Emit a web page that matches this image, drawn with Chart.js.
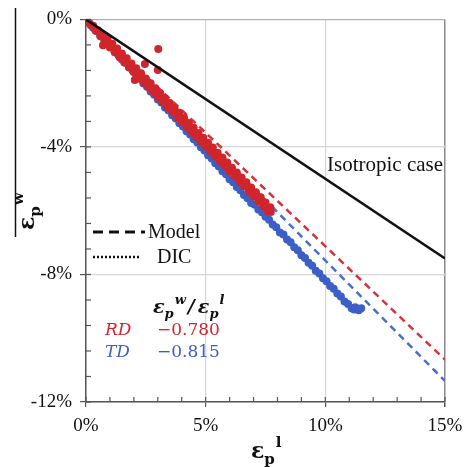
<!DOCTYPE html>
<html lang="en">
<head>
    <meta charset="UTF-8">
    <title>Plastic strain ratio</title>
    <script src="https://cdn.jsdelivr.net/npm/chart.js"></script>
    <style>
        body { margin: 0; background: #fff; }
        #wrap { position: relative; width: 475px; height: 467px; }
    </style>
</head>
<body>
    <div id="wrap"><canvas id="strainChart"></canvas></div>

    <script>
        // axis ticks (percent)
        const xTicks = [0, 1, 2, 3, 4, 5, 6, 7, 8, 9, 10, 11, 12, 13, 14, 15];
        const xMajor = [0, 5, 10, 15];
        const yTicks = [0, -0.8, -1.6, -2.4, -3.2, -4, -4.8, -5.6, -6.4, -7.2, -8, -8.8, -9.6, -10.4, -11.2, -12];
        const yMajor = [0, -4, -8, -12];

        // model and isotropic lines
        const lineX = [0, 15];
        const isoY = [0, -7.5];
        const rdModelY = [0, -10.67];
        const tdModelY = [0, -11.34];

        // DIC measurements, RD
        const rdX = [0.1, 0.2, 0.3, 0.4, 0.5, 0.6, 0.7, 0.8, 0.9, 1.0, 1.1, 1.2, 1.3, 1.4, 1.5, 1.6, 1.7, 1.8, 1.9, 2.0,
            2.1, 2.2, 2.3, 2.4, 2.5, 2.6, 2.7, 2.8, 2.9, 3.0, 3.1, 3.2, 3.3, 3.4, 3.5, 3.6, 3.7, 3.8, 3.9, 4.0,
            4.1, 4.2, 4.3, 4.4, 4.5, 4.6, 4.7, 4.8, 4.9, 5.0, 5.1, 5.2, 5.3, 5.4, 5.5, 5.6, 5.7, 5.8, 5.9, 6.0,
            6.1, 6.2, 6.3, 6.4, 6.5, 6.6, 6.7, 6.8, 6.9, 7.0, 7.1, 7.2, 7.3, 7.4, 7.5, 7.6, 7.7, 7.72,
            0.71, 2.04, 2.46, 3.0, 3.02];
        const rdY = [-0.07, -0.18, -0.20, -0.35, -0.34, -0.53, -0.47, -0.70, -0.61, -0.88, -0.76, -1.03, -0.91, -1.19, -1.07, -1.35, -1.22, -1.50, -1.38, -1.66,
            -1.53, -1.81, -1.69, -1.97, -1.85, -2.12, -2.00, -2.28, -2.16, -2.43, -2.31, -2.59, -2.47, -2.75, -2.62, -2.90, -2.78, -3.06, -2.93, -3.21,
            -3.09, -3.37, -3.25, -3.52, -3.40, -3.68, -3.56, -3.83, -3.71, -3.99, -3.87, -4.15, -4.02, -4.30, -4.18, -4.46, -4.33, -4.61, -4.49, -4.77,
            -4.65, -4.92, -4.80, -5.08, -4.96, -5.23, -5.11, -5.39, -5.27, -5.55, -5.42, -5.70, -5.58, -5.86, -5.74, -6.01, -5.89, -6.04,
            -0.81, -1.90, -1.40, -1.59, -0.93];

        // DIC measurements, TD
        const tdX = [0.15, 0.30, 0.45, 0.60, 0.75, 0.90, 1.05, 1.20, 1.35, 1.50, 1.65, 1.80, 1.95, 2.10, 2.25, 2.40, 2.55, 2.70, 2.85, 3.00,
            3.15, 3.30, 3.45, 3.60, 3.75, 3.90, 4.05, 4.20, 4.35, 4.50, 4.65, 4.80, 4.95, 5.10, 5.25, 5.40, 5.55, 5.70, 5.85, 6.00,
            6.15, 6.30, 6.45, 6.60, 6.75, 6.90, 7.05, 7.20, 7.35, 7.50, 7.65, 7.80, 7.95, 8.10, 8.25, 8.40, 8.55, 8.70, 8.85, 9.00,
            9.15, 9.30, 9.45, 9.60, 9.75, 9.90, 10.05, 10.20, 10.35, 10.50, 10.65, 10.80, 10.95, 11.10, 11.20, 11.25, 11.40, 11.50];
        const tdY = [-0.12, -0.26, -0.37, -0.51, -0.62, -0.76, -0.87, -1.01, -1.12, -1.26, -1.36, -1.51, -1.61, -1.76, -1.86, -2.01, -2.11, -2.26, -2.36, -2.51,
            -2.61, -2.76, -2.86, -3.01, -3.11, -3.26, -3.36, -3.51, -3.61, -3.76, -3.86, -4.01, -4.11, -4.26, -4.36, -4.51, -4.61, -4.76, -4.86, -5.01,
            -5.11, -5.26, -5.36, -5.51, -5.61, -5.76, -5.81, -5.96, -6.05, -6.19, -6.28, -6.43, -6.52, -6.68, -6.75, -6.90, -6.99, -7.15, -7.24, -7.40,
            -7.48, -7.63, -7.73, -7.88, -7.97, -8.12, -8.21, -8.36, -8.45, -8.60, -8.69, -8.85, -8.93, -9.06, -9.10, -9.03, -9.12, -9.06];

        const pts = (xs, ys) => xs.map((x, i) => ({ x: x, y: ys[i] }));

        const RED = '#d1252c';
        const BLUE = '#3b5fc4';
        const SERIF = '"Liberation Serif", "Times New Roman", serif';

        // epsilon with subscript p and a superscript
        function drawEps(ctx, x, y, size, sup, italic) {
            const st = italic ? 'italic bold ' : 'bold ';
            ctx.font = st + size + 'px "DejaVu Serif"';
            ctx.fillText('ε', x, y);
            x += ctx.measureText('ε').width;
            const small = Math.round(size * 0.66);
            ctx.font = st + small + 'px "DejaVu Serif"';
            ctx.fillText('p', x, y + size * 0.25);
            x += ctx.measureText('p').width + 1;
            ctx.fillText(sup, x, y - size * 0.48);
            return x + ctx.measureText(sup).width;
        }

        const decorations = {
            id: 'decorations',
            beforeDatasetsDraw(chart) {
                // small inward ticks
                const ctx = chart.ctx;
                const xs = chart.scales.x, ys = chart.scales.y;
                ctx.save();
                ctx.strokeStyle = '#555';
                ctx.lineWidth = 1.2;
                xTicks.forEach(v => {
                    const px = xs.getPixelForValue(v);
                    ctx.beginPath();
                    ctx.moveTo(px, ys.bottom);
                    ctx.lineTo(px, ys.bottom - 5);
                    ctx.stroke();
                });
                yTicks.forEach(v => {
                    const py = ys.getPixelForValue(v);
                    ctx.beginPath();
                    ctx.moveTo(xs.left, py);
                    ctx.lineTo(xs.left + 5, py);
                    ctx.stroke();
                });
                ctx.restore();
            },
            afterDraw(chart) {
                const ctx = chart.ctx;
                ctx.save();
                ctx.fillStyle = '#111';
                ctx.strokeStyle = '#111';

                // stray frame line at left
                ctx.lineWidth = 1.5;
                ctx.beginPath();
                ctx.moveTo(15.5, 8);
                ctx.lineTo(15.5, 237);
                ctx.stroke();

                ctx.font = '21px ' + SERIF;
                ctx.fillText('Isotropic case', 327, 171);

                // legend
                ctx.lineWidth = 3;
                ctx.setLineDash([10, 6]);
                ctx.beginPath();
                ctx.moveTo(93, 232);
                ctx.lineTo(145, 232);
                ctx.stroke();
                ctx.lineWidth = 2.5;
                ctx.setLineDash([2, 2]);
                ctx.beginPath();
                ctx.moveTo(93, 257);
                ctx.lineTo(141, 257);
                ctx.stroke();
                ctx.setLineDash([]);
                ctx.font = '20px ' + SERIF;
                ctx.fillText('Model', 148, 238);
                ctx.fillText('DIC', 157, 263);

                // ratio table
                let x = drawEps(ctx, 153, 313, 19, 'w', true);
                ctx.font = 'italic bold 19px "DejaVu Serif"';
                ctx.fillText('/', x + 2, 313);
                drawEps(ctx, x + 12, 313, 19, 'l', true);

                ctx.fillStyle = RED;
                ctx.font = 'italic 17px "DejaVu Serif"';
                ctx.fillText('RD', 105, 335);
                ctx.font = '17px "DejaVu Serif"';
                ctx.fillText('\u22120.780', 157, 335);
                ctx.fillStyle = BLUE;
                ctx.font = 'italic 17px "DejaVu Serif"';
                ctx.fillText('TD', 105, 357);
                ctx.font = '17px "DejaVu Serif"';
                ctx.fillText('\u22120.815', 157, 357);

                // axis titles
                ctx.fillStyle = '#111';
                drawEps(ctx, 251, 458, 22, 'l', false);
                ctx.translate(34, 230);
                ctx.rotate(-Math.PI / 2);
                drawEps(ctx, 0, 0, 22, 'w', false);
                ctx.restore();
            }
        };

        new Chart(document.getElementById('strainChart'), {
            type: 'scatter',
            data: {
                datasets: [
                    { data: pts(lineX, isoY), showLine: true, borderColor: '#111', borderWidth: 2.5, pointRadius: 0, order: 0 },
                    { data: pts(rdX, rdY), backgroundColor: RED, borderWidth: 0, pointRadius: 4, order: 1 },
                    { data: pts(tdX, tdY), backgroundColor: BLUE, borderWidth: 0, pointRadius: 4, order: 2 },
                    { data: pts(lineX, rdModelY), showLine: true, borderColor: '#d4343a', borderWidth: 2.5, borderDash: [7, 5], pointRadius: 0, order: 3 },
                    { data: pts(lineX, tdModelY), showLine: true, borderColor: '#4a6fc6', borderWidth: 2.5, borderDash: [7, 5], pointRadius: 0, order: 4 }
                ]
            },
            options: {
                responsive: true,
                maintainAspectRatio: false,
                animation: false,
                layout: { padding: { left: 0, right: 30, top: 17, bottom: 0 } },
                plugins: { legend: { display: false }, tooltip: { enabled: false } },
                scales: {
                    x: {
                        type: 'linear', min: 0, max: 15,
                        afterBuildTicks: s => { s.ticks = xTicks.map(v => ({ value: v })); },
                        afterFit: s => { s.height = 65; },
                        ticks: {
                            autoSkip: false, maxRotation: 0, padding: 8, color: '#111',
                            font: { family: SERIF, size: 19 },
                            callback: v => xMajor.includes(v) ? v + '%' : ''
                        },
                        grid: {
                            color: c => c.tick && c.tick.value === 15 ? '#8a8a8a' : (c.tick && xMajor.includes(c.tick.value) ? '#d6d6d6' : 'rgba(0,0,0,0)'),
                            lineWidth: c => c.tick && c.tick.value === 15 ? 1.5 : 1.2,
                            tickColor: c => c.tick && xMajor.includes(c.tick.value) ? '#555' : 'rgba(0,0,0,0)',
                            tickLength: 5
                        },
                        border: { color: '#555', width: 1.5 }
                    },
                    y: {
                        type: 'linear', min: -12, max: 0,
                        afterBuildTicks: s => { s.ticks = yTicks.map(v => ({ value: v })); },
                        afterFit: s => { s.width = 86; },
                        ticks: {
                            autoSkip: false, padding: 8, color: '#111',
                            font: { family: SERIF, size: 19 },
                            callback: v => yMajor.includes(v) ? v + '%' : ''
                        },
                        grid: {
                            color: c => c.tick && c.tick.value === 0 ? '#b0b0b0' : (c.tick && yMajor.includes(c.tick.value) ? '#d6d6d6' : 'rgba(0,0,0,0)'),
                            lineWidth: 1.2,
                            tickColor: c => c.tick && yMajor.includes(c.tick.value) ? '#555' : 'rgba(0,0,0,0)',
                            tickLength: 6
                        },
                        border: { color: '#555', width: 1.5 }
                    }
                }
            },
            plugins: [decorations]
        });
    </script>
</body>
</html>
